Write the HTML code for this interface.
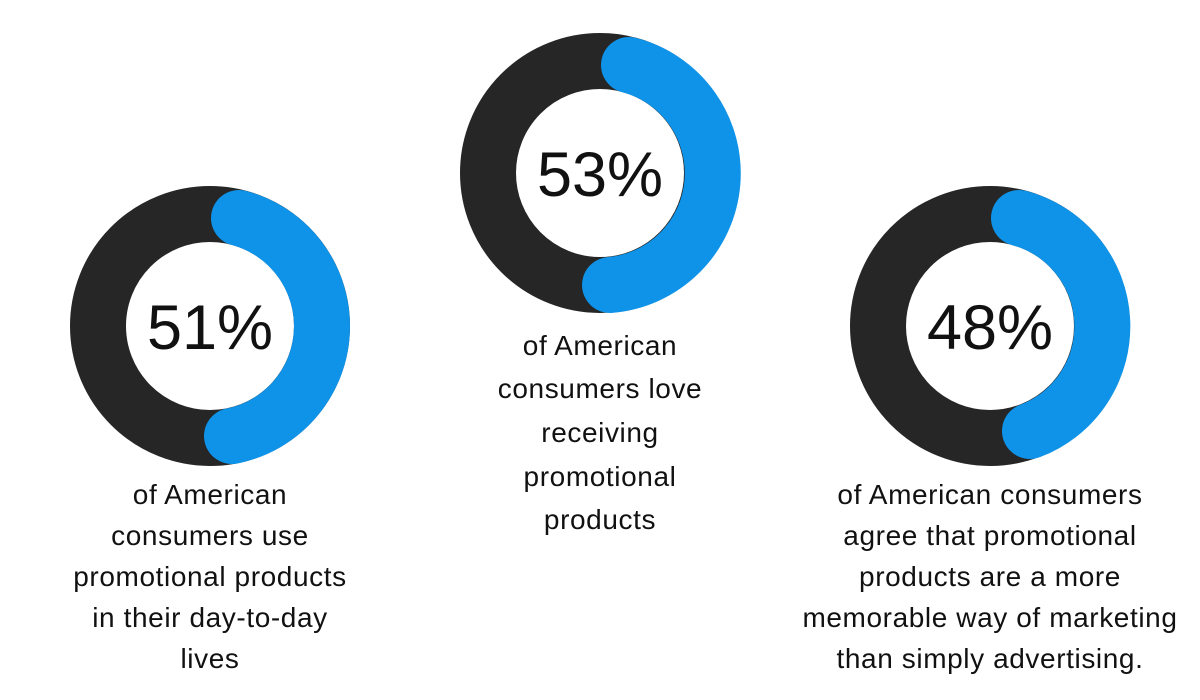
<!DOCTYPE html>
<html><head><style>
html,body{margin:0;padding:0;background:#fff;width:1200px;height:700px;overflow:hidden}
svg{display:block}
text{font-family:"Liberation Sans",Arial,sans-serif;fill:#111}
</style></head><body>
<svg width="1200" height="700" viewBox="0 0 1200 700">
<g fill="none" stroke-width="56">
<circle cx="210" cy="326" r="112" stroke="#262626"/>
<circle cx="600" cy="173" r="112" stroke="#262626"/>
<circle cx="990" cy="326" r="112" stroke="#262626"/>
</g>
<g fill="none" stroke="#0e93e8" stroke-width="56" stroke-linecap="round">
<path d="M239,218 A112,112 0 0 1 232,436"/>
<path d="M629,65 A112,112 0 0 1 610,285"/>
<path d="M1019,218 A112,112 0 0 1 1030,431"/>
</g>
<g font-size="63" text-anchor="middle">
<text x="210" y="349">51%</text>
<text x="600" y="196">53%</text>
<text x="990" y="349">48%</text>
</g>
<g font-size="28" text-anchor="middle" letter-spacing="0.6">
<text x="210" y="504">of American</text>
<text x="210" y="545">consumers use</text>
<text x="210" y="586">promotional products</text>
<text x="210" y="627">in their day-to-day</text>
<text x="210" y="668">lives</text>
<text x="600" y="355">of American</text>
<text x="600" y="398">consumers love</text>
<text x="600" y="442">receiving</text>
<text x="600" y="486">promotional</text>
<text x="600" y="529">products</text>
<text x="990" y="504">of American consumers</text>
<text x="990" y="545">agree that promotional</text>
<text x="990" y="586">products are a more</text>
<text x="990" y="627">memorable way of marketing</text>
<text x="990" y="668">than simply advertising.</text>
</g>
</svg>
</body></html>
